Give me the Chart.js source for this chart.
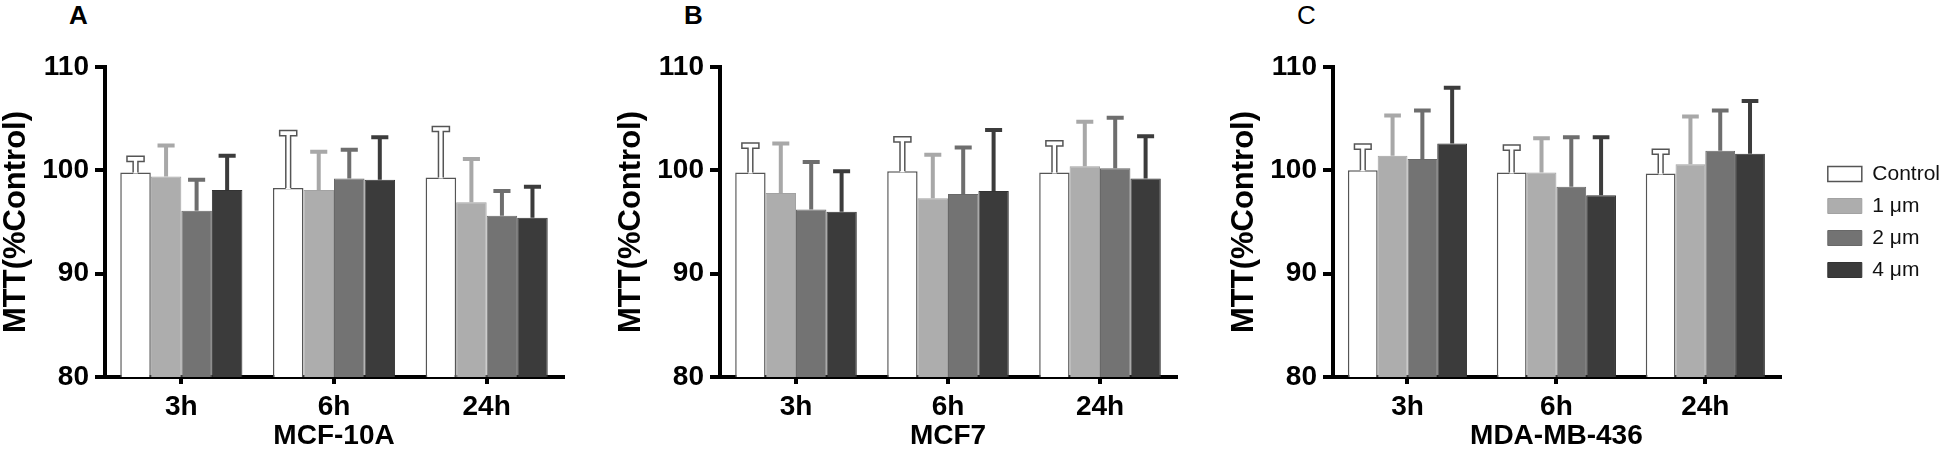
<!DOCTYPE html>
<html>
<head>
<meta charset="utf-8">
<script src="https://cdn.jsdelivr.net/npm/chart.js@4.4.1/dist/chart.umd.min.js"></script>
<style>
  html, body { margin: 0; padding: 0; background: #fff; }
  body { width: 1946px; height: 450px; position: relative; overflow: hidden; font-family: 'Liberation Sans', Arial, sans-serif; }
  .panel { position: absolute; top: 0; height: 450px; }
  .tag { position: absolute; top: 0; font-size: 26px; font-weight: bold; color: #000; }
</style>
</head>
<body>
<div class="tag" style="left:69px">A</div>
<div class="tag" style="left:684px">B</div>
<div class="tag" style="left:1297px;font-weight:normal">C</div>
<div class="panel" style="left:0;width:580px"><canvas id="chartA"></canvas></div>
<div class="panel" style="left:615px;width:578px"><canvas id="chartB"></canvas></div>
<div class="panel" style="left:1228px;width:718px"><canvas id="chartC"></canvas></div>
<script>
// time points and treatment groups
const timePoints = ['3h', '6h', '24h'];
const treatments = ['Control', '1 μm', '2 μm', '4 μm'];

// MCF-10A: mean and error (SD), one row per treatment
const mcf10aMeans = [[99.8, 98.3, 99.3], [99.4, 98.1, 96.9], [96.1, 99.2, 95.6], [98.1, 99.1, 95.4]];
const mcf10aErrors = [[1.3, 5.3, 4.7], [3.0, 3.7, 4.2], [3.0, 2.8, 2.4], [3.3, 4.1, 3.0]];

// MCF7
const mcf7Means = [[99.8, 99.9, 99.8], [97.8, 97.3, 100.4], [96.2, 97.7, 100.2], [96.0, 98.0, 99.2]];
const mcf7Errors = [[2.6, 3.1, 2.8], [4.8, 4.2, 4.3], [4.6, 4.5, 4.9], [3.9, 5.9, 4.1]];

// MDA-MB-436
const mdaMeans = [[100.0, 99.8, 99.7], [101.4, 99.8, 100.6], [101.1, 98.4, 101.9], [102.6, 97.6, 101.6]];
const mdaErrors = [[2.3, 2.4, 2.1], [3.9, 3.3, 4.6], [4.7, 4.8, 3.9], [5.4, 5.6, 5.1]];

const yTicks = [80, 90, 100, 110];

const fills = ['#ffffff', '#adadad', '#737373', '#3b3b3b'];
const edges = ['#555555', '#a2a2a2', '#686868', '#333333'];
const whisker = ['#555555', '#a8a8a8', '#6e6e6e', '#3c3c3c'];
const FONT = "'Liberation Sans', Arial, sans-serif";
const NARROW = "'Liberation Sans Narrow', 'Arial Narrow', 'Liberation Sans', Arial, sans-serif";

// draws the upward SD whiskers on top of each bar
const errorBars = {
  id: 'errorBars',
  afterDatasetsDraw(chart) {
    const ctx = chart.ctx;
    const yScale = chart.scales.y;
    chart.data.datasets.forEach((ds, i) => {
      const meta = chart.getDatasetMeta(i);
      meta.data.forEach((bar, j) => {
        const top = yScale.getPixelForValue(ds.data[j] + ds.errors[j]);
        const x = bar.x, base = bar.y, half = bar.width * 0.28;
        ctx.save();
        if (ds.hollow) {
          // outlined T for the white control bars
          const sw = 2.4, ch = 2.6;
          const outline = (yb) => {
            ctx.beginPath();
            ctx.moveTo(x - sw, yb);
            ctx.lineTo(x - sw, top + ch);
            ctx.lineTo(x - half, top + ch);
            ctx.lineTo(x - half, top - ch);
            ctx.lineTo(x + half, top - ch);
            ctx.lineTo(x + half, top + ch);
            ctx.lineTo(x + sw, top + ch);
            ctx.lineTo(x + sw, yb);
          };
          outline(base + 1);
          ctx.fillStyle = '#fff';
          ctx.fill();
          outline(base);
          ctx.strokeStyle = ds.whisker;
          ctx.lineWidth = 1.5;
          ctx.stroke();
        } else {
          ctx.strokeStyle = ds.whisker;
          ctx.lineWidth = 4;
          ctx.beginPath();
          ctx.moveTo(x, base);
          ctx.lineTo(x, top);
          ctx.moveTo(x - half, top);
          ctx.lineTo(x + half, top);
          ctx.stroke();
        }
        ctx.restore();
      });
    });
  }
};

function makePanel(id, means, errors, cellLine, withLegend) {
  const datasets = treatments.map((name, k) => ({
    label: name,
    data: means[k],
    errors: errors[k],
    backgroundColor: fills[k],
    borderColor: edges[k],
    borderWidth: k === 0 ? 1.5 : 1,
    whisker: whisker[k],
    hollow: k === 0,
    xAxisID: 'x',
    yAxisID: 'y',
    categoryPercentage: 0.8,
    barPercentage: 1.0
  }));

  const scales = {
    x: {
      type: 'category',
      offset: true,
      grid: { display: true, offset: false, drawOnChartArea: false, drawTicks: true, tickLength: 7, lineWidth: 4, color: '#000' },
      border: { display: true, color: '#000', width: 4 },
      ticks: { color: '#000', padding: 6, font: { family: FONT, size: 28, weight: 'bold' } },
      title: { display: true, text: cellLine, color: '#000', padding: 0, font: { family: FONT, size: 28, weight: 'bold', lineHeight: 1.0 } },
      afterFit: (s) => { s.height = 73; }
    },
    y: {
      type: 'linear',
      min: 80,
      max: 110,
      afterBuildTicks: (s) => { s.ticks = yTicks.map(v => ({ value: v })); },
      grid: { display: true, drawOnChartArea: false, drawTicks: true, tickLength: 10, lineWidth: 4, color: '#000' },
      border: { display: true, color: '#000', width: 4 },
      ticks: { color: '#000', padding: 6, font: { family: NARROW, size: 28, weight: 'bold' } },
      title: { display: true, text: 'MTT(%Control)', color: '#000', padding: 0, font: { family: FONT, size: 31, weight: 'bold', lineHeight: 1.05 } },
      afterFit: (s) => { s.width = 105; }
    }
  };
  if (withLegend) {
    // empty spacer between plot and legend
    scales.gap = {
      type: 'linear', axis: 'y', position: 'right', display: true,
      grid: { display: false }, ticks: { display: false }, border: { display: false },
      afterFit: (s) => { s.width = 37; }
    };
  }

  return new Chart(document.getElementById(id), {
    type: 'bar',
    data: { labels: timePoints, datasets },
    options: {
      responsive: true,
      maintainAspectRatio: false,
      animation: false,
      layout: { padding: { top: 67, right: withLegend ? -4 : 17, bottom: 0, left: 0 } },
      scales,
      plugins: {
        legend: {
          display: withLegend,
          position: 'right',
          align: 'center',
          fullSize: false,
          maxWidth: 140,
          labels: { color: '#111', boxWidth: 34, boxHeight: 15, padding: 11, font: { family: FONT, size: 21 } }
        },
        tooltip: { enabled: false }
      }
    },
    plugins: [errorBars]
  });
}

makePanel('chartA', mcf10aMeans, mcf10aErrors, 'MCF-10A', false);
makePanel('chartB', mcf7Means, mcf7Errors, 'MCF7', false);
makePanel('chartC', mdaMeans, mdaErrors, 'MDA-MB-436', true);
</script>
</body>
</html>
